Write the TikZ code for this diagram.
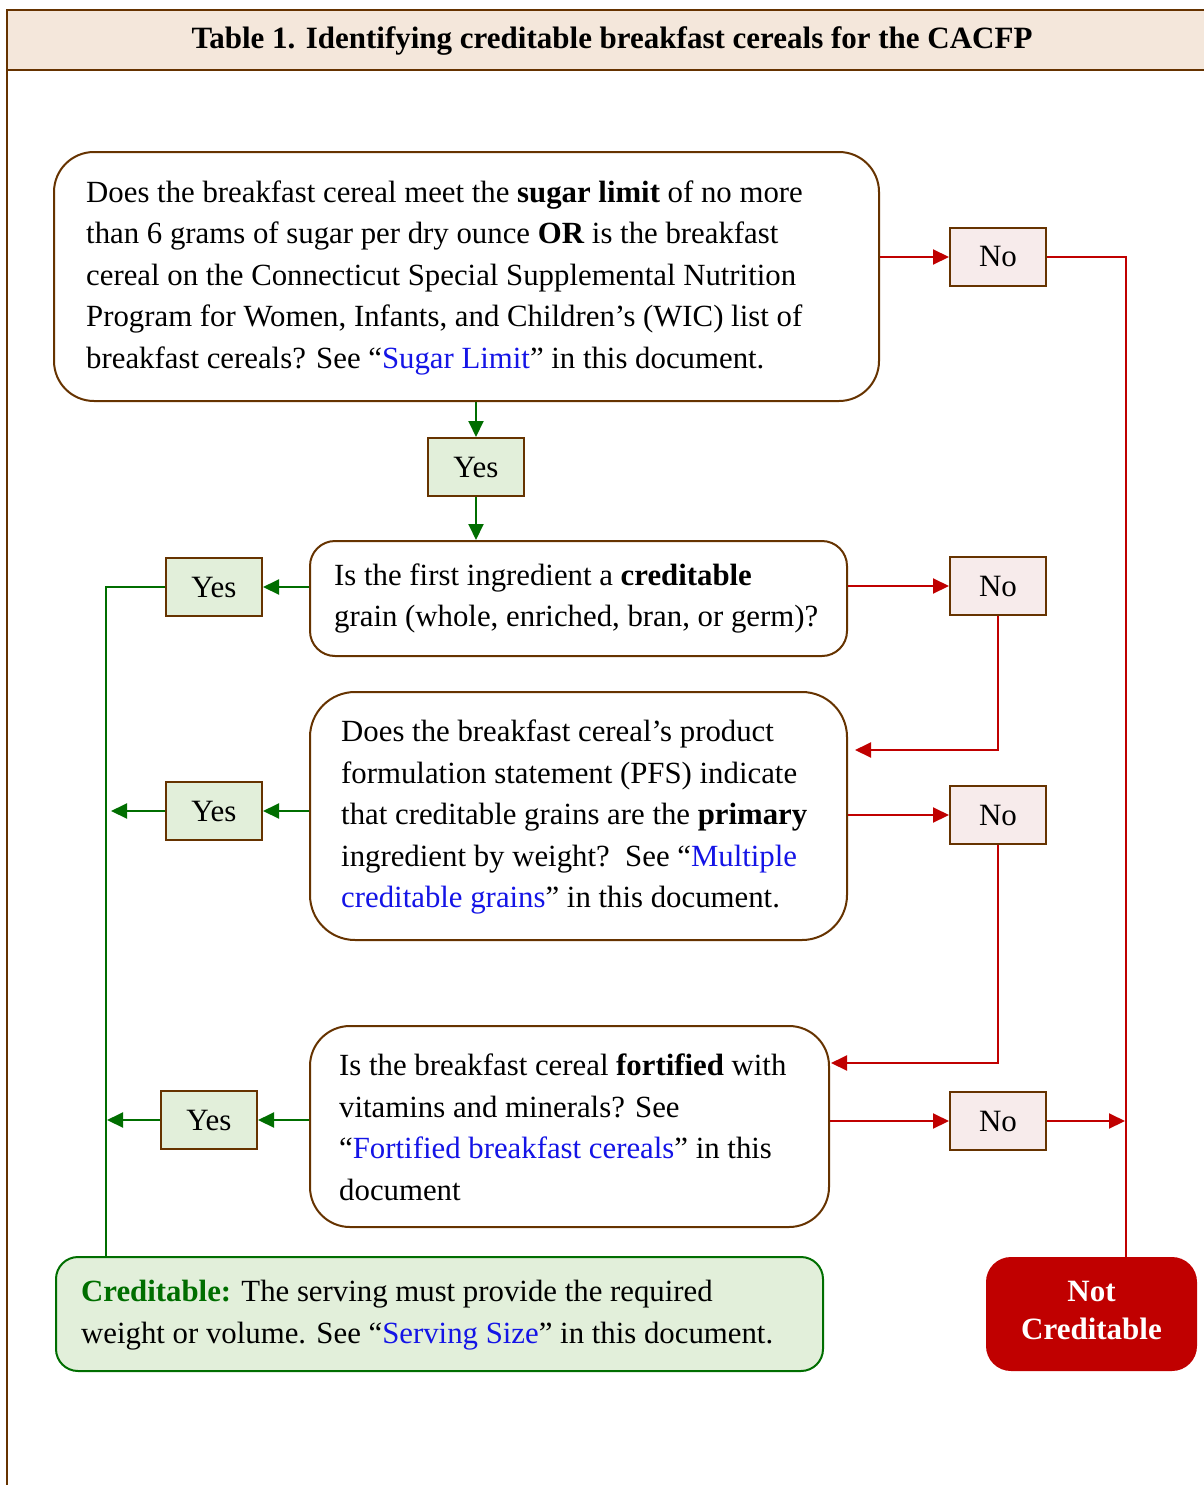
\documentclass[tikz,border=0pt]{standalone}
\usepackage{fontspec}
\setmainfont{Liberation Serif}
\usetikzlibrary{arrows.meta,positioning,calc}
\definecolor{brn}{RGB}{102,51,0}
\definecolor{hdrfill}{RGB}{244,231,219}
\definecolor{pinkfill}{RGB}{247,235,235}
\definecolor{grnfill}{RGB}{226,239,218}
\definecolor{grn}{RGB}{0,110,0}
\definecolor{rd}{RGB}{192,0,0}
\definecolor{lnkblue}{RGB}{20,20,230}
\newcommand{\lnk}[1]{\textcolor{lnkblue}{#1}}
\begin{document}
\begin{tikzpicture}[x=1pt,y=-1pt,
  qbox/.style={draw=brn, line width=2pt, fill=white, rounded corners=#1, inner sep=0pt},
  qtext/.style={anchor=west, align=left, inner sep=0pt, font=\fontsize{30.8}{41.5}\selectfont},
  yesbox/.style={draw=brn, line width=2pt, fill=grnfill, minimum width=96pt, minimum height=58pt, inner sep=0pt, font=\fontsize{31}{36}\selectfont},
  nobox/.style={draw=brn, line width=2pt, fill=pinkfill, minimum width=96pt, minimum height=58pt, inner sep=0pt, font=\fontsize{31}{36}\selectfont},
  tip/.style={-{Triangle[length=16pt,width=15pt]}},
  redarr/.style={draw=rd, line width=2pt, tip},
  redline/.style={draw=rd, line width=2pt},
  grnarr/.style={draw=grn, line width=2pt, tip},
  grnline/.style={draw=grn, line width=2pt}
]
\useasboundingbox (0,0) rectangle (1204,1485);
% header and frame
\draw[brn, line width=2.5pt, fill=hdrfill] (7,10) rectangle (1220,70);
\draw[brn, line width=2.5pt] (7,70) -- (7,1495);
\node[font=\fontsize{31}{36}\selectfont\bfseries, inner sep=0pt] (title) at (612,41) {Table 1. Identifying creditable breakfast cereals for the CACFP};

% question boxes
\node[qbox=40pt, minimum width=825pt, minimum height=249pt] (q1) at (466.5,276.5) {};
\node[qtext] (q1t) at ([xshift=33pt,yshift=-1pt]q1.west) {Does the breakfast cereal meet the \textbf{sugar limit} of no more\\
than 6 grams of sugar per dry ounce \textbf{OR} is the breakfast\\
cereal on the Connecticut Special Supplemental Nutrition\\
Program for Women, Infants, and Children’s (WIC) list of\\
breakfast cereals? See “\lnk{Sugar Limit}” in this document.};

\node[qbox=25pt, minimum width=537pt, minimum height=115pt] (q2) at (578.5,598.5) {};
\node[qtext] (q2t) at ([xshift=25pt,yshift=0pt]q2.west) {Is the first ingredient a \textbf{creditable}\\
grain (whole, enriched, bran, or germ)?};

\node[qbox=45pt, minimum width=537pt, minimum height=248pt] (q3) at (578.5,816) {};
\node[qtext] (q3t) at ([xshift=32pt,yshift=-1pt]q3.west) {Does the breakfast cereal’s product\\
formulation statement (PFS) indicate\\
that creditable grains are the \textbf{primary}\\
ingredient by weight?\ \ See “\lnk{Multiple}\\
\lnk{creditable grains}” in this document.};

\node[qbox=40pt, minimum width=519pt, minimum height=201pt] (q4) at (569.5,1126.5) {};
\node[qtext] (q4t) at ([xshift=30pt,yshift=-1pt]q4.west) {Is the breakfast cereal \textbf{fortified} with\\
vitamins and minerals? See\\
“\lnk{Fortified breakfast cereals}” in this\\
document};

% outcome boxes
\node[draw=grn, line width=2pt, fill=grnfill, rounded corners=22pt, minimum width=767pt, minimum height=114pt, inner sep=0pt] (cred) at (439.5,1314) {};
\node[qtext] (credt) at ([xshift=26pt,yshift=-1pt]cred.west) {\textcolor{grn}{\textbf{Creditable:}} The serving must provide the required\\
weight or volume. See “\lnk{Serving Size}” in this document.};

\node[fill=rd, rounded corners=25pt, minimum width=211pt, minimum height=114pt, inner sep=0pt] (nc) at (1091.5,1314) {};
\node[text=white, align=center, inner sep=0pt, font=\fontsize{31}{38}\selectfont\bfseries] (nct) at ([yshift=4pt]nc.center) {Not\\Creditable};

% yes / no boxes
\node[nobox] (no1) at (998,257) {No};
\node[yesbox] (yes1) at (476,467) {Yes};
\node[yesbox] (yes2) at (214,587) {Yes};
\node[nobox] (no2) at (998,586) {No};
\node[yesbox] (yes3) at (214,811) {Yes};
\node[nobox] (no3) at (998,815) {No};
\node[yesbox] (yes4) at (209,1120) {Yes};
\node[nobox] (no4) at (998,1121) {No};

% junction coordinates
\coordinate (rx) at (1126,1126);
\coordinate (gx) at (106,0);
\coordinate (r3) at (855,750);
\coordinate (r4) at (831,1063);

% red connectors
\draw[redarr] (q1.east |- no1.west) -- (no1.west);
\draw[redline] (no1.east) -| (rx |- nc.north);
\draw[redarr] (q2.east |- no2.west) -- (no2.west);
\draw[redarr] (no2.south) |- (r3);
\draw[redarr] (q3.east |- no3.west) -- (no3.west);
\draw[redarr] (no3.south) |- (r4);
\draw[redarr] (q4.east |- no4.west) -- (no4.west);
\draw[redarr, shorten >=1pt] (no4.east) -- (rx |- no4.east);

% green connectors
\draw[grnarr] (yes1.north |- q1.south) -- (yes1.north);
\draw[grnarr] (yes1.south) -- (yes1.south |- q2.north);
\draw[grnarr] (q2.west |- yes2.east) -- (yes2.east);
\draw[grnline] (yes2.west) -| (gx |- cred.north);
\draw[grnarr] (q3.west |- yes3.east) -- (yes3.east);
\draw[grnarr, shorten >=5pt] (yes3.west) -- (gx |- yes3.west);
\draw[grnarr] (q4.west |- yes4.east) -- (yes4.east);
\draw[grnarr, shorten >=1pt] (yes4.west) -- (gx |- yes4.west);
\end{tikzpicture}
\end{document}
